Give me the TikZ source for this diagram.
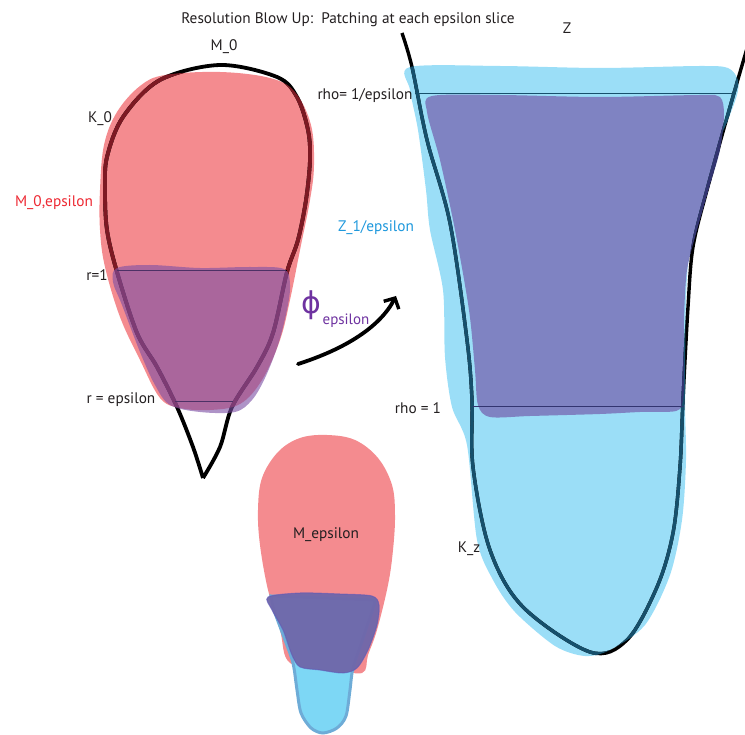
\documentclass[tikz,border=0pt]{standalone}
\usepackage{fontspec}
\setmainfont{PT Sans}
\newfontfamily\dejavu{DejaVu Sans}
\usetikzlibrary{arrows.meta}
\definecolor{txt}{RGB}{35,31,32}
\definecolor{redfill}{RGB}{244,139,143}
\definecolor{darkredline}{RGB}{125,25,35}
\definecolor{purpleL}{RGB}{125,80,165}
\definecolor{bluefill}{RGB}{155,222,247}
\definecolor{tealline}{RGB}{22,80,108}
\definecolor{purpleR}{RGB}{127,131,194}
\definecolor{purpleRline}{RGB}{50,52,112}
\definecolor{tailfill}{RGB}{125,215,245}
\definecolor{tailline}{RGB}{110,172,215}
\definecolor{purpleM}{RGB}{111,103,170}
\definecolor{labred}{RGB}{237,40,50}
\definecolor{labblue}{RGB}{30,152,220}
\definecolor{phicol}{RGB}{110,50,160}
\tikzset{
  lab/.style={text=txt, font=\fontsize{15.3}{17}\selectfont, inner sep=0pt},
  kzero/.style={insert path={plot[smooth,tension=0.55] coordinates {(203,478) (193,447) (177,407) (157,367) (137,333) (117,272) (107,230) (105,190) (107,157) (123,117) (160,80) (220,65) (277,77) (297,97) (308,130) (310,160) (306,200) (298,240) (287,272) (273,333) (257,367) (232,407) (220,447) (203,478)}}},
  redzero/.style={insert path={plot[smooth cycle,tension=0.6] coordinates {(140,86) (165,75) (220,72) (270,78) (295,92) (311,125) (314,165) (310,200) (300,250) (290,300) (280,340) (262,380) (240,404) (210,410) (180,408) (160,398) (140,360) (120,317) (105,267) (100,230) (100,190) (104,145) (117,112)}}},
  purpzero/.style={insert path={plot[smooth cycle,tension=0.55] coordinates {(117,268) (150,265) (200,268) (250,267) (284,269) (290,285) (287,310) (278,345) (265,378) (252,400) (235,412) (200,412) (170,405) (155,385) (140,352) (122,305) (113,282)}}},
  kz/.style={insert path={plot[smooth,tension=0.55] coordinates {(402,33) (412,67) (427,140) (450,223) (467,340) (472,400) (473,467) (490,550) (523,607) (590,652) (627,640) (657,587) (673,533) (680,467) (683,400) (688,307) (693,247) (707,190) (730,107) (748,45)}}},
  bluereg/.style={insert path={plot[smooth cycle,tension=0.5] coordinates {(410,67) (500,66) (600,68) (700,66) (728,68) (738,80) (737,95) (728,120) (720,140) (705,200) (690,250) (686,300) (685,400) (686,460) (682,520) (670,575) (645,625) (610,650) (585,656) (555,646) (515,612) (493,580) (477,540) (467,445) (452,407) (445,357) (443,290) (430,230) (426,190) (418,130) (410,90)}}},
  purpR/.style={insert path={plot[smooth cycle,tension=0.5] coordinates {(432,96) (500,95) (600,97) (700,95) (720,97) (724,115) (720,150) (710,185) (697,230) (687,270) (684,320) (684,370) (683,400) (676,411) (640,412) (600,414) (530,416) (490,417) (478,405) (475,370) (469,310) (455,230) (440,160) (427,112)}}},
  redmid/.style={insert path={plot[smooth cycle,tension=0.6] coordinates {(290,663) (280,630) (268,590) (260,545) (258,510) (262,478) (278,452) (300,438) (327,435) (355,440) (378,458) (392,485) (395,515) (393,550) (388,585) (377,630) (368,655) (362,673) (330,668)}}},
  tail/.style={insert path={plot[smooth,tension=0.5] coordinates {(271,596) (274,610) (285,640) (293,663) (297,690) (301,713) (311,728) (323,733) (337,728) (346,716) (350,690) (353,668) (363,638) (374,605) (374,600)} -- cycle}},
  purpM/.style={insert path={plot[smooth cycle,tension=0.5] coordinates {(268,597) (300,593) (340,594) (372,596) (379,605) (377,625) (368,650) (357,668) (343,673) (320,670) (300,667) (292,655) (283,630) (272,610)}}},
}
\begin{document}
\begin{tikzpicture}[x=1pt,y=-1pt]
\useasboundingbox (0,0) rectangle (745,735);

% ---------- left: M_0 ----------
\fill[redfill][redzero];
\draw[line width=3.8pt, black, line join=miter][kzero];
\begin{scope}
  \clip[redzero];
  \draw[line width=3.8pt, darkredline, line join=miter][kzero];
\end{scope}
\coordinate (r1a) at (117,271);
\coordinate (r1b) at (287,271);
\coordinate (rea) at (175,402);
\coordinate (reb) at (233,402);
\draw[line width=1pt, black] (r1a) -- (r1b);
\draw[line width=1pt, black] (rea) -- (reb);
\fill[purpleL, opacity=0.62][purpzero];

% ---------- right: Z ----------
\fill[bluefill][bluereg];
\fill[purpleR][purpR];
\draw[line width=3.4pt, black][kz];
\begin{scope}
  \clip[bluereg];
  \draw[line width=3.4pt, tealline][kz];
\end{scope}
\begin{scope}
  \clip[purpR];
  \draw[line width=3.4pt, purpleRline][kz];
\end{scope}
\coordinate (rta) at (415,94);
\coordinate (rtb) at (734,94);
\coordinate (rba) at (473,407);
\coordinate (rbb) at (684,407);
\draw[line width=1pt, tealline] (rta) -- (rtb);
\draw[line width=1pt, purpleRline] (rba) -- (rbb);

% ---------- bottom middle: M_epsilon ----------
\fill[redfill][redmid];
\draw[fill=tailfill, draw=tailline, line width=3pt][tail];
\draw[fill=purpleM, draw=purpleM!85!blue, draw opacity=0.6, line width=1pt, fill opacity=0.96][purpM];

% ---------- arrow ----------
\coordinate (arrS) at (298,364);
\coordinate (arrE) at (396,296);
\draw[line width=3.8pt, line cap=round, -{Straight Barb[length=8pt,width=17pt,line width=3.4pt]}]
  (arrS) .. controls (345,349) and (380,327) .. (arrE);

% ---------- labels ----------
\node[lab] (title) at (348,20) {Resolution Blow Up:\ \ Patching at each epsilon slice};
\node[lab] (zlab) at (567,28) {Z};
\node[lab] (m0) at (224,47) {M\_0};
\node[lab] (k0) at (100,119) {K\_0};
\node[lab, text=labred] (m0eps) at (54,203) {M\_0,epsilon};
\node[lab, text=labblue] (z1eps) at (376,228) {Z\_1/epsilon};
\node[lab] (r1) at (97,275) {r=1};
\node[lab] (reps) at (121,400) {r = epsilon};
\node[lab] (rhoeps) at (365,96) {rho= 1/epsilon};
\node[lab] (rho1) at (418,408) {rho = 1};
\node[lab] (kz) at (469,549) {K\_z};
\node[lab] (meps) at (326,535) {M\_epsilon};
\node[inner sep=0pt, text=phicol, font=\dejavu\fontsize{30}{30}\selectfont] (phi) at (311,305) {ϕ};
\node[lab, text=phicol, font=\fontsize{15}{17}\selectfont] (phisub) at (346,321) {epsilon};
\end{tikzpicture}
\end{document}
